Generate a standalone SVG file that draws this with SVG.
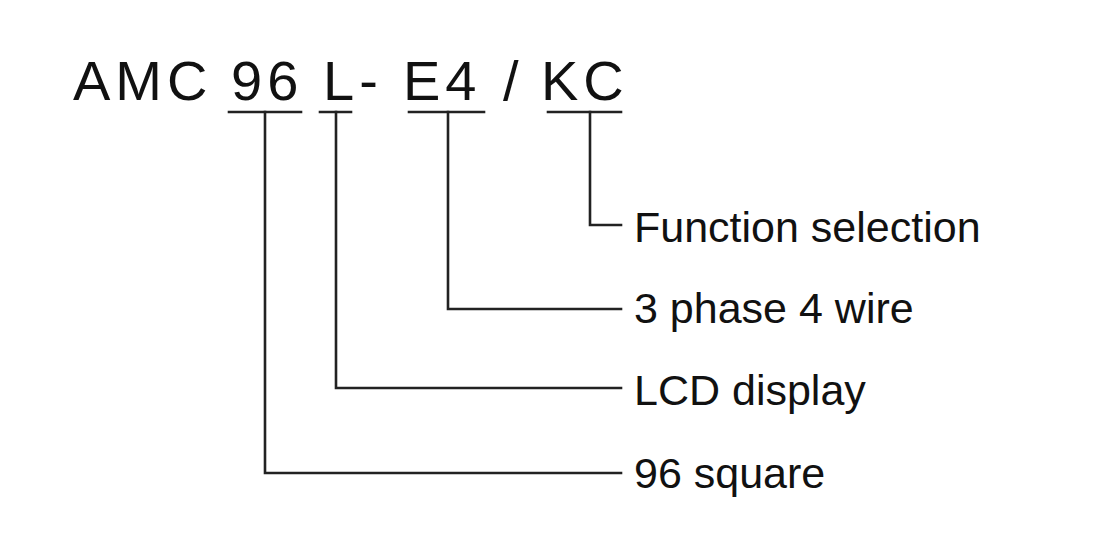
<svg xmlns="http://www.w3.org/2000/svg" width="1100" height="545" viewBox="0 0 1100 545">
<style>
.t{font-family:"Liberation Sans",Arial,sans-serif;fill:#111;font-size:56px;letter-spacing:5px}
.l{font-family:"Liberation Sans",Arial,sans-serif;fill:#111;font-size:43px}
.c{stroke:#222;stroke-width:2.6;fill:none;stroke-linecap:square}
</style>
<rect width="1100" height="545" fill="#fff"/>
<g id="code">
<text class="t" x="73" y="100">AMC</text>
<text class="t" x="231" y="100">96</text>
<text class="t" x="323" y="100">L-</text>
<text class="t" x="403" y="100">E4</text>
<text class="t" x="503" y="100">/</text>
<text class="t" x="541" y="100">KC</text>
</g>
<g id="connectors">
<path class="c" d="M229 112H301M320 112H351M409 112H484M548 112H621"/>
<path class="c" d="M265 112V473H621"/>
<path class="c" d="M336 112V388H621"/>
<path class="c" d="M448 112V309H621"/>
<path class="c" d="M590 112V225H621"/>
</g>
<g id="label-function"><text class="l" x="634" y="242">Function selection</text></g>
<g id="label-phase"><text class="l" x="634" y="323">3 phase 4 wire</text></g>
<g id="label-lcd"><text class="l" x="634" y="405">LCD display</text></g>
<g id="label-square"><text class="l" x="634" y="488">96 square</text></g>
</svg>
